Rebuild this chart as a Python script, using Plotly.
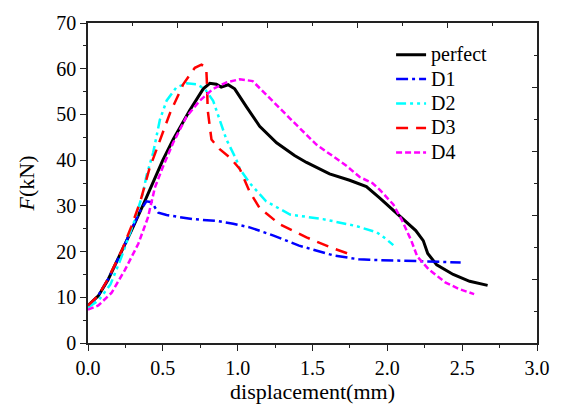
import plotly.graph_objects as go

# Load-displacement curves (displacement in mm, force in kN)
perfect_x = [0, 0.069, 0.135, 0.225, 0.29, 0.37, 0.436, 0.50, 0.569, 0.68, 0.77, 0.814, 0.858, 0.89,
             0.936, 0.98, 1.06, 1.147, 1.26, 1.38, 1.46, 1.614, 1.748, 1.86, 1.95, 2.06, 2.19, 2.24,
             2.27, 2.33, 2.44, 2.55, 2.67]
perfect_y = [8.2, 10.3, 13.9, 19.9, 24.6, 30.3, 35.3, 40.0, 44.5, 50.9, 55.6, 56.8, 56.6, 56.0,
             56.5, 55.6, 51.6, 47.4, 43.8, 41.0, 39.5, 37.0, 35.6, 34.2, 31.7, 28.5, 24.6, 22.4,
             19.6, 17.1, 15.0, 13.5, 12.6]

d1_x = [0, 0.069, 0.135, 0.225, 0.29, 0.35, 0.39, 0.425, 0.47, 0.525, 0.60, 0.70, 0.858, 0.97,
        1.08, 1.24, 1.41, 1.46, 1.636, 1.81, 1.88, 2.21, 2.49]
d1_y = [8.0, 10.4, 14.0, 20.0, 24.8, 29.0, 31.0, 30.8, 28.5, 28.0, 27.6, 27.1, 26.7, 26.1,
        25.3, 23.5, 21.3, 20.8, 19.2, 18.3, 18.2, 17.9, 17.6]

d2_x = [0, 0.07, 0.15, 0.22, 0.27, 0.31, 0.37, 0.39, 0.436, 0.48, 0.525, 0.59, 0.66, 0.725,
        0.78, 0.836, 0.88, 0.925, 0.99, 1.014, 1.08, 1.19, 1.35, 1.57, 1.79, 1.93, 1.99, 2.04]
d2_y = [7.8, 9.3, 12.8, 18.5, 23.1, 26.7, 33.1, 36.5, 41.7, 48.8, 53.0, 55.9, 56.8, 56.6,
        55.6, 53.0, 48.8, 44.5, 40.2, 38.1, 35.0, 31.0, 28.1, 27.1, 25.6, 24.2, 22.8, 21.4]

d3_x = [0, 0.069, 0.135, 0.225, 0.29, 0.35, 0.41, 0.48, 0.547, 0.636, 0.714, 0.758, 0.79, 0.795,
        0.80, 0.825, 0.88, 0.947, 1.014, 1.08, 1.147, 1.28, 1.46, 1.614, 1.76]
d3_y = [8.2, 10.4, 14.1, 20.2, 25.5, 31.0, 38.1, 44.5, 50.2, 56.6, 60.2, 60.9, 60.2, 56.6,
        50.9, 44.5, 42.4, 40.6, 38.1, 33.1, 29.5, 26.0, 23.1, 21.0, 19.3]

d4_x = [0, 0.069, 0.158, 0.247, 0.336, 0.40, 0.447, 0.50, 0.569, 0.658, 0.747, 0.836, 0.925,
        1.014, 1.10, 1.19, 1.26, 1.35, 1.526, 1.726, 1.815, 1.90, 1.95, 2.04, 2.10, 2.16, 2.20,
        2.28, 2.39, 2.48, 2.58]
d4_y = [7.3, 8.2, 11.0, 16.0, 21.7, 27.4, 34.0, 38.5, 43.8, 49.5, 53.0, 55.6, 57.0,
        57.7, 57.3, 54.3, 52.0, 49.1, 43.4, 38.8, 36.3, 35.0, 33.5, 30.3, 26.7, 22.4, 18.9,
        16.0, 13.2, 11.8, 10.7]

series = [
    ("perfect", perfect_x, perfect_y, "black", "solid", 3),
    ("D1", d1_x, d1_y, "#0000ff", "12px,4px,3px,4px", 2.5),
    ("D2", d2_x, d2_y, "#00ffff", "10px,4px,3px,4px,3px,4px", 2.5),
    ("D3", d3_x, d3_y, "#ff0000", "12px,8px", 2.5),
    ("D4", d4_x, d4_y, "#ff00ff", "6px,3px", 2.5),
]

font_family = "Liberation Serif, Times New Roman, serif"
axis_color = "#222222"

fig = go.Figure()
for name, xs, ys, color, dash, width in series:
    # legend rows are spaced by the legend font size; the label itself is drawn a bit larger
    label = f"<span style='font-size:20px'>{name}</span>"
    fig.add_trace(go.Scatter(x=xs, y=ys, mode="lines", name=label,
                             line=dict(color=color, dash=dash, width=width)))

# Empty trace so the top/right frame axes are drawn
fig.add_trace(go.Scatter(x=[], y=[], xaxis="x2", yaxis="y2", showlegend=False, hoverinfo="skip"))

fig.update_layout(
    width=562, height=410,
    margin=dict(l=88, r=24, t=18, b=65),
    paper_bgcolor="white", plot_bgcolor="white",
    font=dict(family=font_family, size=20, color="black"),
    showlegend=True,
    legend=dict(x=0.675, y=0.955, xanchor="left", yanchor="top",
                bgcolor="rgba(0,0,0,0)", font=dict(size=16.5), tracegroupgap=0),
    xaxis=dict(range=[0, 3.0], dtick=0.5, tick0=0, tickformat=".1f",
               showgrid=False, zeroline=False, showline=True, linecolor=axis_color, linewidth=1.5,
               ticks="outside", ticklen=6, tickwidth=1.2, tickcolor=axis_color,
               minor=dict(dtick=0.25, ticks="outside", ticklen=3, tickwidth=1.2, tickcolor=axis_color),
               title=dict(text="displacement(mm)", font=dict(size=22), standoff=4),
               tickfont=dict(size=20)),
    yaxis=dict(range=[0, 70], dtick=10, tick0=0,
               showgrid=False, zeroline=False, showline=True, linecolor=axis_color, linewidth=1.5,
               ticks="outside", ticklen=6, tickwidth=1.2, tickcolor=axis_color,
               minor=dict(dtick=5, ticks="outside", ticklen=3, tickwidth=1.2, tickcolor=axis_color),
               title=dict(text="<i>F</i>(kN)", font=dict(size=22), standoff=16),
               tickfont=dict(size=20)),
    xaxis2=dict(range=[0, 3.0], overlaying="x", side="top", anchor="y", dtick=0.6, tick0=0,
                showticklabels=False, showgrid=False, zeroline=False,
                showline=True, linecolor=axis_color, linewidth=1.5,
                ticks="inside", ticklen=5, tickwidth=1.2, tickcolor=axis_color,
                minor=dict(dtick=0.3, ticks="inside", ticklen=3, tickwidth=1.2, tickcolor=axis_color)),
    yaxis2=dict(range=[0, 70], overlaying="y", side="right", anchor="x", dtick=14, tick0=0,
                showticklabels=False, showgrid=False, zeroline=False,
                showline=True, linecolor=axis_color, linewidth=1.5,
                ticks="inside", ticklen=5, tickwidth=1.2, tickcolor=axis_color,
                minor=dict(dtick=7, ticks="inside", ticklen=3, tickwidth=1.2, tickcolor=axis_color)),
)

fig.write_html("out.html")
